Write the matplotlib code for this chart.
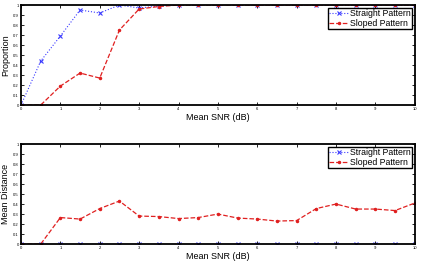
import matplotlib
matplotlib.use("Agg")
import matplotlib.pyplot as plt
import numpy as np

plt.rcParams['font.family'] = ['Liberation Sans', 'DejaVu Sans']

# Mean SNR values (dB)
snr = [0, 0.5, 1, 1.5, 2, 2.5, 3, 3.5, 4, 4.5, 5, 5.5, 6, 6.5, 7, 7.5, 8, 8.5, 9, 9.5, 10]

# Proportion (top panel)
prop_straight = [0, 0.44, 0.69, 0.95, 0.92, 1.0, 0.97, 0.99, 1, 1, 1, 1, 1, 1, 1, 1, 1, 1, 1, 1, 1]
prop_sloped = [0, 0, 0.19, 0.32, 0.27, 0.75, 0.96, 0.985, 1, 1, 1, 1, 1, 1, 1, 1, 1, 1, 1, 1, 1]

# Mean distance (bottom panel)
dist_straight = [0] * 21
dist_sloped = [0, 0, 0.265, 0.25, 0.355, 0.43, 0.28, 0.275, 0.255, 0.265, 0.30, 0.26,
               0.25, 0.23, 0.235, 0.355, 0.40, 0.35, 0.35, 0.335, 0.41]

xticks = list(range(0, 11))
yticks = [round(v, 1) for v in np.arange(0, 1.01, 0.1)]
ytick_labels = ['0', '0.1', '0.2', '0.3', '0.4', '0.5', '0.6', '0.7', '0.8', '0.9', '1']

fig = plt.figure(figsize=(4.22, 2.78), dpi=100)
ax1 = fig.add_axes([0.0498, 0.622, 0.933, 0.360])
ax2 = fig.add_axes([0.0498, 0.122, 0.933, 0.360])


def style(ax, ylabel):
    ax.set_xlim(0, 10)
    ax.set_ylim(0, 1)
    ax.set_xticks(xticks)
    ax.set_xticklabels([str(t) for t in xticks])
    ax.set_yticks(yticks)
    ax.set_yticklabels(ytick_labels)
    ax.tick_params(direction='in', length=2.5, width=0.6, labelsize=3,
                   top=True, right=True, pad=1.5)
    for s in ax.spines.values():
        s.set_linewidth(1.3)
    ax.set_xlabel('Mean SNR (dB)', fontsize=6.5, labelpad=1)
    ax.set_ylabel(ylabel, fontsize=6.5, labelpad=2)
    leg = ax.legend(loc='upper right', fontsize=6.3, fancybox=False,
                    framealpha=1, borderpad=0.15, labelspacing=0.1,
                    handlelength=2.2, handletextpad=0.2, borderaxespad=0.3)
    leg.get_frame().set_edgecolor('black')
    leg.get_frame().set_linewidth(1.0)


ax1.plot(snr, prop_straight, color='#3a3aff', linestyle=':', linewidth=0.8,
         marker='x', markersize=2.5, markeredgewidth=0.8, label='Straight Pattern')
ax1.plot(snr, prop_sloped, color='#e02020', linestyle='--', linewidth=0.9,
         marker='.', markersize=3, label='Sloped Pattern')
style(ax1, 'Proportion')

ax2.plot(snr, dist_straight, color='#3a3aff', linestyle=':', linewidth=0.8,
         marker='x', markersize=2.5, markeredgewidth=0.8, label='Straight Pattern')
ax2.plot(snr, dist_sloped, color='#e02020', linestyle='--', linewidth=0.9,
         marker='.', markersize=3, label='Sloped Pattern')
style(ax2, 'Mean Distance')

fig.savefig('out.png', dpi=100)
